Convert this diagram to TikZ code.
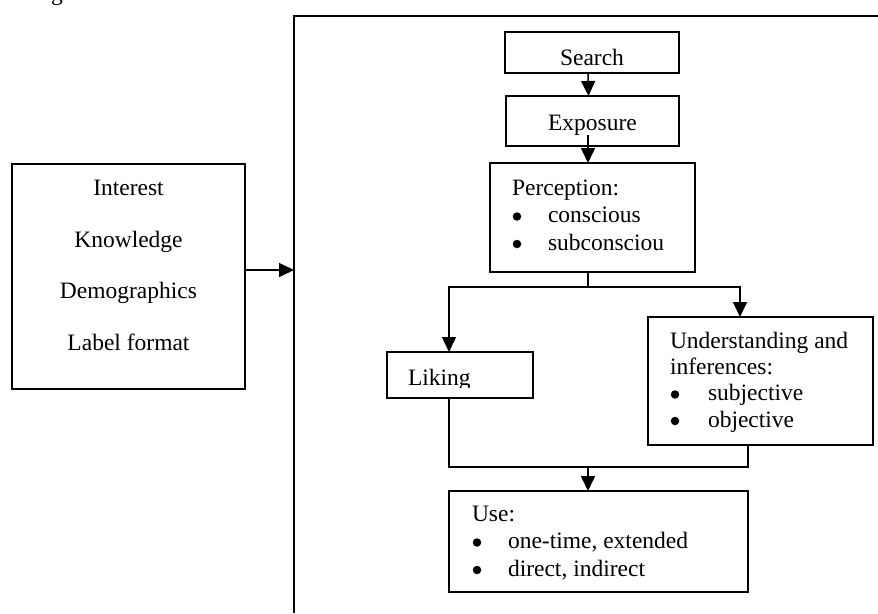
\documentclass[tikz,border=0pt]{standalone}
\usepackage{fontspec}
\setmainfont{Liberation Serif}
\usetikzlibrary{arrows.meta}
\begin{document}
\begin{tikzpicture}[x=1pt,y=-1pt,
  box/.style={draw, line width=1.5pt, rectangle, inner sep=0pt, outer sep=0pt},
  txt/.style={font=\fontsize{23.5}{27.5}\selectfont, inner sep=0pt, outer sep=0pt, anchor=base west},
  ctxt/.style={font=\fontsize{23.5}{27.5}\selectfont, inner sep=0pt, outer sep=0pt, anchor=base},
  bul/.style={circle, fill, draw=none, inner sep=0pt, minimum size=8.5pt},
  conn/.style={line width=1.5pt},
  arr/.style={conn, -{Triangle[length=15pt,width=14pt]}}]
\useasboundingbox (0,0) rectangle (878,613);

% partial caption letter clipped at the top
\node[ctxt] (capg) at (57,0) {g};

% frame
\coordinate (frameBL) at (294,613);
\coordinate (frameTL) at (294,16);
\coordinate (frameTR) at (878,16);
\draw[conn] (frameBL) -- (frameTL) -- (frameTR);

% left box
\node[box, minimum width=233pt, minimum height=225pt] (left) at (128.5,276.5) {};
\node[ctxt] (t1) at (128.5,195) {Interest};
\node[ctxt] (t2) at (128.5,247) {Knowledge};
\node[ctxt] (t3) at (128.5,298.5) {Demographics};
\node[ctxt] (t4) at (128.5,350) {Label format};

% Search
\node[box, minimum width=174pt, minimum height=41pt] (search) at (592,52.5) {};
\node[ctxt] (searchT) at (592,65) {Search};

% Exposure
\node[box, minimum width=173pt, minimum height=50pt] (expo) at (592.5,121) {};
\node[ctxt] (expoT) at (592.5,130) {Exposure};

% Perception
\node[box, minimum width=205pt, minimum height=109pt] (perc) at (592.5,217.5) {};
\node[txt] (pT) at (512,195) {Perception:};
\node[bul] (pB1) at (517,216.5) {};
\node[txt] (pI1) at (548,222.5) {conscious};
\node[bul] (pB2) at (517,244) {};
\node[txt] (pI2) at (548,250) {subconsciou};

% Liking
\node[box, minimum width=146pt, minimum height=46pt] (liking) at (460,375) {};
\begin{scope}
\clip (388,353) rectangle (532,387.5);
\node[txt] (likingT) at (408,385) {Liking};
\end{scope}

% Understanding
\node[box, minimum width=225pt, minimum height=128pt] (und) at (760.5,381) {};
\node[txt] (uT1) at (670,348) {Understanding and};
\node[txt] (uT2) at (670,374) {inferences:};
\node[bul] (uB1) at (675,394.5) {};
\node[txt] (uI1) at (708,400.5) {subjective};
\node[bul] (uB2) at (675,421) {};
\node[txt] (uI2) at (708,427) {objective};

% Use
\node[box, minimum width=299pt, minimum height=101pt] (use) at (598.5,541.5) {};
\node[txt] (useT) at (472,521) {Use:};
\node[bul] (useB1) at (477,542.5) {};
\node[txt] (useI1) at (508,548.5) {one-time, extended};
\node[bul] (useB2) at (477,570) {};
\node[txt] (useI2) at (508,576) {direct, indirect};

% connectors
\draw[arr] ([xshift=-4pt]search.south) -- ([xshift=-4pt]expo.north);
\draw[arr] ([xshift=-4.5pt,yshift=11pt]expo.south) -- ([xshift=-4.5pt]perc.north);

\coordinate (split) at (588,287);
\coordinate (lsplit) at (449,287);
\coordinate (rsplit) at (740,287);
\draw[conn] ([xshift=-4.5pt]perc.south) -- (split);
\draw[arr] (split) -- (lsplit) -- (lsplit |- liking.north);
\draw[arr] (split) -- (rsplit) -- (rsplit |- und.north);

\coordinate (lmerge) at (449,467);
\coordinate (rmerge) at (748,467);
\coordinate (merge) at (588,467);
\draw[conn] (lmerge |- liking.south) -- (lmerge) -- (rmerge) -- (rmerge |- und.south);
\draw[arr] (merge) -- (merge |- use.north);

\coordinate (framein) at (294,270);
\draw[arr] (left.east |- framein) -- (framein);
\end{tikzpicture}
\end{document}
